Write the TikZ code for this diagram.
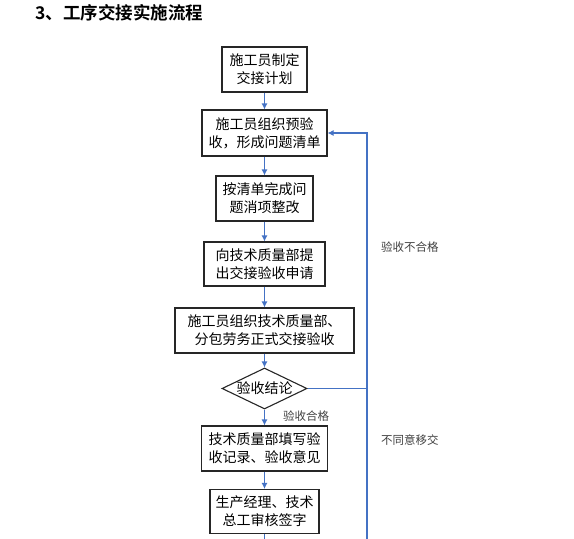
\documentclass[tikz,border=0pt]{standalone}
\usepackage{fontspec}
\newfontfamily\cjk{Noto Sans CJK SC}
\newfontfamily\cjkb{Noto Sans CJK SC Bold}
\usetikzlibrary{shapes.geometric,arrows.meta}
\definecolor{lineblue}{RGB}{68,114,196}
\tikzset{
  x=1pt,y=-1pt,
  box/.style={draw=black!85,line width=1.1pt,rectangle,inner sep=0pt,align=center,
    font=\cjk\fontsize{14}{18}\selectfont},
  decision/.style={draw=black!85,line width=1.1pt,diamond,shape aspect=2,inner sep=0pt,
    minimum width=85pt,minimum height=41pt,font=\cjk\fontsize{14}{18}\selectfont},
  flow/.style={draw=lineblue,line width=1.1pt,-{Latex[length=6pt,width=6pt]}},
  link/.style={draw=lineblue,line width=1.1pt},
  note/.style={font=\cjk\fontsize{11.5}{14}\selectfont,text=black!75,inner sep=0pt}
}
\begin{document}
\begin{tikzpicture}
\useasboundingbox (0,0) rectangle (574,539);
\node[anchor=west,font=\cjkb\fontsize{17.5}{20}\selectfont,inner sep=0pt] (title) at (35,13) {3、工序交接实施流程};

\node[box,minimum width=85pt,minimum height=45pt] (b1) at (264.5,69.5) {施工员制定\\交接计划};
\node[box,minimum width=125pt,minimum height=46pt] (b2) at (264.5,133) {施工员组织预验\\收，形成问题清单};
\node[box,minimum width=97pt,minimum height=45pt] (b3) at (264.5,198.5) {按清单完成问\\题消项整改};
\node[box,minimum width=121pt,minimum height=44pt] (b4) at (264.5,264) {向技术质量部提\\出交接验收申请};
\node[box,minimum width=179pt,minimum height=45pt] (b5) at (264.5,330.5) {施工员组织技术质量部、\\分包劳务正式交接验收};
\node[decision] (d) at (264.5,388.5) {验收结论};
\node[box,minimum width=126pt,minimum height=45pt] (b6) at (264.5,448.5) {技术质量部填写验\\收记录、验收意见};
\node[box,minimum width=109pt,minimum height=44pt] (b7) at (264.5,511.5) {生产经理、技术\\总工审核签字};

\coordinate (loopR) at (367,133);
\coordinate (dR) at (367,388.5);
\coordinate (bot) at (264.5,539);
\coordinate (botR) at (367,539);

\draw[flow] (b1) -- (b2);
\draw[flow] (b2) -- (b3);
\draw[flow] (b3) -- (b4);
\draw[flow] (b4) -- (b5);
\draw[flow] (b5) -- (d);
\draw[flow] (d) -- (b6);
\draw[flow] (b6) -- (b7);
\draw[link] (b7) -- (bot);
\draw[flow] (d.east) -- (dR) -- (loopR) -- (b2.east);
\draw[link] (botR) -- (dR);

\node[note,anchor=west] (ok) at (283,416) {验收合格};
\node[note,anchor=west] (ng) at (381,247) {验收不合格};
\node[note,anchor=west] (nt) at (381,440) {不同意移交};
\end{tikzpicture}
\end{document}
